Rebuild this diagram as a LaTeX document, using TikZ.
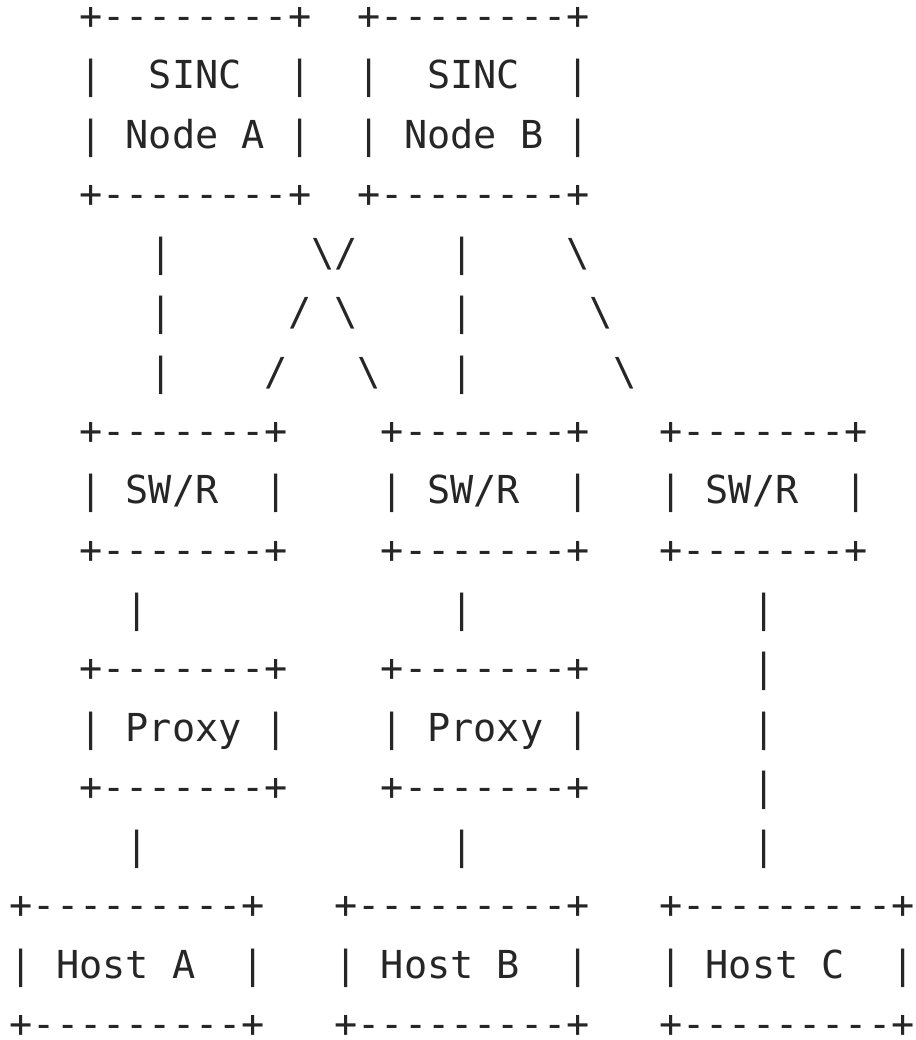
\documentclass[tikz,border=0pt]{standalone}
\usepackage{fontspec}
\setmonofont{DejaVu Sans Mono}
\definecolor{ink}{RGB}{38,38,38}
\newcommand\bs{\symbol{92}}
\begin{document}
\begin{tikzpicture}[x=11.6pt,y=-29.65pt,
  asciirow/.style={font=\ttfamily\fontsize{19.268pt}{29.65pt}\selectfont,
    text=ink, inner sep=0pt, anchor=base west}]
\useasboundingbox (-4.7pt,14.7pt) rectangle (453.3pt,-505.3pt);
% SINC nodes
\node[asciirow] (r0)  at (0,0)  {~~~+--------+~~+--------+};
\node[asciirow] (r1)  at (0,1)  {~~~|~~SINC~~|~~|~~SINC~~|};
\node[asciirow] (r2)  at (0,2)  {~~~|~Node~A~|~~|~Node~B~|};
\node[asciirow] (r3)  at (0,3)  {~~~+--------+~~+--------+};
% cross links down to the switches/routers
\node[asciirow] (r4)  at (0,4)  {~~~~~~|~~~~~~\bs/~~~~|~~~~\bs};
\node[asciirow] (r5)  at (0,5)  {~~~~~~|~~~~~/~\bs~~~~|~~~~~\bs};
\node[asciirow] (r6)  at (0,6)  {~~~~~~|~~~~/~~~\bs~~~|~~~~~~\bs};
% SW/R row
\node[asciirow] (r7)  at (0,7)  {~~~+-------+~~~~+-------+~~~+-------+};
\node[asciirow] (r8)  at (0,8)  {~~~|~SW/R~~|~~~~|~SW/R~~|~~~|~SW/R~~|};
\node[asciirow] (r9)  at (0,9)  {~~~+-------+~~~~+-------+~~~+-------+};
\node[asciirow] (r10) at (0,10) {~~~~~|~~~~~~~~~~~~~|~~~~~~~~~~~~|};
% proxies
\node[asciirow] (r11) at (0,11) {~~~+-------+~~~~+-------+~~~~~~~|};
\node[asciirow] (r12) at (0,12) {~~~|~Proxy~|~~~~|~Proxy~|~~~~~~~|};
\node[asciirow] (r13) at (0,13) {~~~+-------+~~~~+-------+~~~~~~~|};
\node[asciirow] (r14) at (0,14) {~~~~~|~~~~~~~~~~~~~|~~~~~~~~~~~~|};
% hosts
\node[asciirow] (r15) at (0,15) {+---------+~~~+---------+~~~+---------+};
\node[asciirow] (r16) at (0,16) {|~Host~A~~|~~~|~Host~B~~|~~~|~Host~C~~|};
\node[asciirow] (r17) at (0,17) {+---------+~~~+---------+~~~+---------+};
\end{tikzpicture}
\end{document}
